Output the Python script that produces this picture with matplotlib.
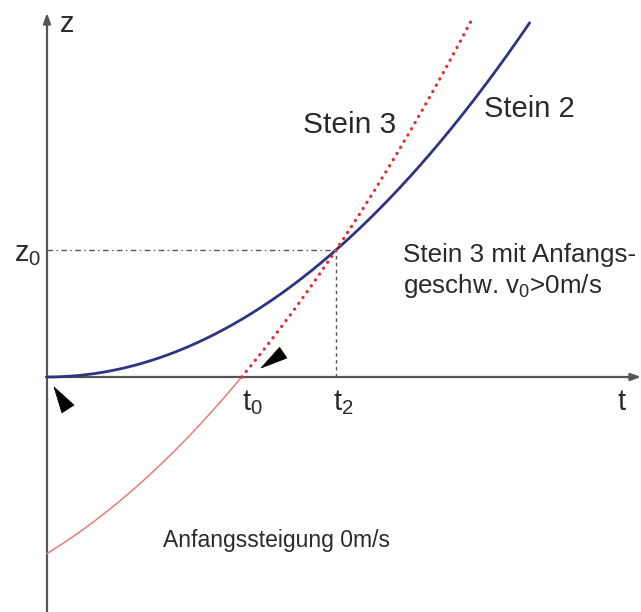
import numpy as np
import matplotlib
matplotlib.use("Agg")
import matplotlib.pyplot as plt
from matplotlib.patches import Polygon
from matplotlib.transforms import ScaledTranslation

plt.rcParams['font.family'] = ['Liberation Sans', 'DejaVu Sans']
plt.rcParams['mathtext.fontset'] = 'custom'
plt.rcParams['mathtext.rm'] = 'Liberation Sans'
plt.rcParams['mathtext.it'] = 'Liberation Sans:italic'

# ---- data (arbitrary units: t2 = 1, z0 = 1) ----
t2 = 1.0              # meeting time
z0 = 1.0              # meeting height
accel = 1.0           # same acceleration for both stones
k3 = 1.39             # Stein 3 start slope factor (initial velocity term)
t_end_stein2 = 1.67
t_end_stein3 = 1.466
labels_ticks = ["t$_0$", "t$_2$"]

# ---- geometry of canvas (pixels) ----
W, H = 641, 612
ox, oy = 47, 377      # origin pixel
ut, uz = 289.0, 127.0 # pixels per unit

fig = plt.figure(figsize=(W / 100, H / 100), dpi=100)
ax = fig.add_axes([0, 0, 1, 1])
ax.set_xlim(-ox / ut, (W - ox) / ut)
ax.set_ylim(-(H - oy) / uz, oy / uz)
ax.axis('off')


def P(px, py):
    return ((px - ox) / ut, (oy - py) / uz)


axis_col = '#555555'
txt_col = '#2a2a2a'
# axes with arrows
ax.annotate('', xy=P(641, oy), xytext=P(ox - 1, oy),
            arrowprops=dict(arrowstyle='-|>,head_length=0.6,head_width=0.22',
                            color=axis_col, lw=1.6, shrinkA=0, shrinkB=0))
ax.annotate('', xy=P(ox, 13), xytext=P(ox, H + 2),
            arrowprops=dict(arrowstyle='-|>,head_length=0.6,head_width=0.22',
                            color=axis_col, lw=1.6, shrinkA=0, shrinkB=0))

# curves
def stein2(t):
    return accel * t ** 2

def stein3(t):
    return accel * t ** 2 + k3 * (t - t2)

t0 = (-k3 + np.sqrt(k3 ** 2 + 4 * accel * k3 * t2)) / (2 * accel)

tb = np.linspace(0, t_end_stein2, 300)
ax.plot(tb, stein2(tb), color='#2f3480', lw=2.0, solid_capstyle='round', zorder=3)

tr1 = np.linspace(0, t0, 200)
ax.plot(tr1, stein3(tr1), color='#e57b7b', lw=1.1, zorder=3)
tr2 = np.linspace(t0, t_end_stein3, 300)
ax.plot(tr2, stein3(tr2), color='#d9343c', lw=2.4, linestyle=(0, (0.05, 2.1)),
        dash_capstyle='round', zorder=4)

# guide lines
ax.plot([0, t2], [z0, z0], color=axis_col, lw=1.0, linestyle=(0, (4, 2.5, 1, 2.5)), zorder=2)
ax.plot([t2, t2], [0, z0], color=axis_col, lw=1.0, linestyle=(0, (2.5, 2.5)), zorder=2)

# slope pointer triangles
def pointer(tip, direction, length, half_w):
    d = np.array(direction, float)
    d /= np.linalg.norm(d)
    n = np.array([-d[1], d[0]])
    base = d * length
    verts = [(0, 0), tuple(base + n * half_w), tuple(base - n * half_w)]
    tr = fig.dpi_scale_trans + ScaledTranslation(tip[0], tip[1], ax.transData)
    ax.add_patch(Polygon(verts, closed=True, fc='black', ec='black', lw=0.5,
                         transform=tr, zorder=5))

pointer(P(54, 387), (14, -22), 0.26, 0.072)
pointer(P(261, 368), (22.5, 15.5), 0.27, 0.065)

# texts
fs = 21
ax.text(*P(60, 32), 'z', fontsize=fs, ha='left', va='baseline', color=txt_col)
ax.text(*P(41, 261), 'z$_0$', fontsize=fs, ha='right', va='baseline', color=txt_col)
ax.text(t0, P(0, 410)[1], labels_ticks[0], fontsize=fs, ha='left', va='baseline', color=txt_col)
ax.text(t2 - 0.01, P(0, 410)[1], labels_ticks[1], fontsize=fs, ha='left', va='baseline', color=txt_col)
ax.text(*P(617, 410), 't', fontsize=fs, ha='left', va='baseline', color=txt_col)
ax.text(*P(303, 133), 'Stein 3', fontsize=21.5, ha='left', va='baseline', color=txt_col)
ax.text(*P(484, 117), 'Stein 2', fontsize=21, ha='left', va='baseline', color=txt_col)
ax.text(*P(403, 262), 'Stein 3 mit Anfangs-', fontsize=18.7, ha='left', va='baseline', color=txt_col)
ax.text(*P(403, 293), 'geschw. v$_0$>0m/s', fontsize=18.7, ha='left', va='baseline', color=txt_col)
ax.text(*P(163, 547), 'Anfangssteigung 0m/s', fontsize=16.5,
        ha='left', va='baseline', color=txt_col)

fig.savefig('out.png', dpi=100)
